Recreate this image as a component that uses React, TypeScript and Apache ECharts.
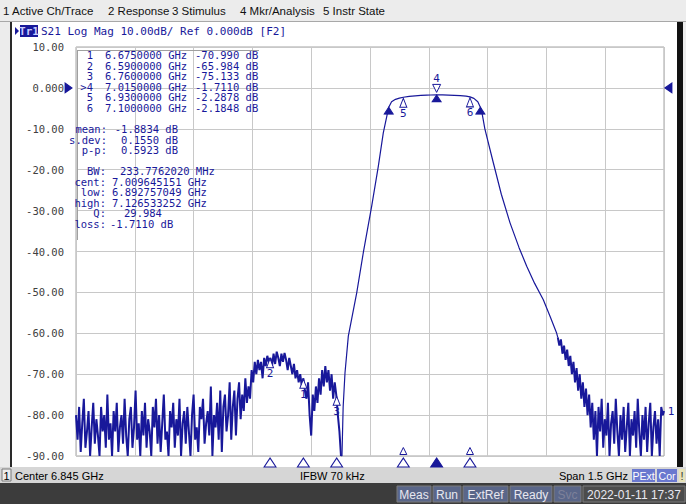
import React, { useEffect, useRef } from "react";
import * as echarts from "echarts";

// ---------- data ----------
const START_GHZ = 6.095;
const STOP_GHZ = 7.595;
const NOISE_STEP_GHZ = 0.004;

const Y_MIN = -90;
const Y_MAX = 10;
const Y_STEP = 10;
const yTickLabels: Record<string, string> = {
  "10": "10.00", "0": "0.000", "-10": "-10.00", "-20": "-20.00", "-30": "-30.00",
  "-40": "-40.00", "-50": "-50.00", "-60": "-60.00", "-70": "-70.00", "-80": "-80.00", "-90": "-90.00",
};

// left noise floor + spurious hump (dB), sampled every 4 MHz from 6.095 GHz
const leftNoiseStartGHz = 6.095;
const leftNoiseDb = [
  -80, -86, -78, -89, -82, -76, -88, -84, -79, -90, -83, -77, -87, -81, -85, -90, -78, -84, -80, -88,
  -75, -86, -82, -90, -79, -84, -77, -89, -83, -80, -87, -76, -85, -90, -81, -78, -88, -83, -74, -86,
  -82, -90, -79, -85, -77, -88, -81, -84, -90, -78, -83, -76, -87, -80, -89, -82, -75, -86, -84, -90,
  -79, -83, -77, -88, -81, -85, -76, -90, -82, -79, -87, -78, -84, -90, -80, -75, -86, -83, -89, -78,
  -81, -76, -87, -82, -79, -85, -73, -90, -80, -83, -77, -86, -74, -89, -78, -75, -84, -80, -72, -86,
  -78, -74, -85, -76, -72, -81, -75, -79, -71, -77, -73, -76,
  -69, -72, -67, -70, -66.5, -69, -67, -71, -66, -68, -65.5, -67,
  -66, -68, -65, -67.5, -64.5, -66, -68, -65, -67, -64.8, -66.5, -69, -66, -68,
  -70, -67.5, -71, -69, -72, -70, -73, -71, -74,
  -76, -72, -80, -85, -75, -79, -73,
  -77, -71, -75, -69, -73, -68, -72,
  -69, -74, -70, -76, -72, -75.1,
  -80, -84, -90,
];

// lower skirt [GHz, dB]
const lowerSkirt: [number, number][] = [
  [6.7735, -90], [6.7765, -78], [6.7812, -69.7], [6.7897, -60.7], [6.8111, -50.1],
  [6.8279, -40.3], [6.8493, -28.9], [6.8662, -19.2], [6.8789, -11], [6.8928, -4.71],
  [6.9, -3.4], [6.91, -2.8], [6.92, -2.5],
];

// pass band [GHz, dB]
const passBand: [number, number][] = [
  [6.93, -2.2878], [6.945, -2.08], [6.96, -1.93], [6.975, -1.84], [6.99, -1.77], [7.0, -1.74],
  [7.015, -1.711], [7.03, -1.72], [7.045, -1.76], [7.06, -1.82], [7.075, -1.9], [7.09, -2.03],
  [7.1, -2.1848],
];

// upper skirt [GHz, dB]
const upperSkirt: [number, number][] = [
  [7.11, -2.55], [7.12, -3.4], [7.1265, -4.71], [7.1299, -5.7], [7.138, -10], [7.1596, -18.3],
  [7.18, -26], [7.2022, -33], [7.225, -39], [7.2448, -43.6], [7.265, -47.8], [7.2871, -51.8],
  [7.305, -56], [7.3213, -60],
];

// right noise (dB), sampled every 4 MHz from 7.324 GHz
const rightNoiseStartGHz = 7.324;
const rightNoiseDb = [
  -61, -63, -61.5, -65, -63, -66.5, -64, -68, -65.5, -70,
  -67, -72, -68.5, -74, -70, -76, -72, -78, -73.5, -80,
  -75, -83, -77, -86, -79, -90, -78, -84, -76, -88,
  -81, -85, -77, -90, -82, -79, -87, -76, -84, -90,
  -80, -86, -78, -89, -83, -77, -90, -81, -85, -79,
  -88, -76, -84, -90, -80, -86, -78, -89, -82, -77,
  -90, -83, -79, -87, -81, -90, -78, -80,
];
const traceEnd: [number, number] = [7.595, -79];

// markers
const markerNames = ["1", "2", "3", "4", "5", "6"];
const markerFreqGHz = [6.675, 6.59, 6.76, 7.015, 6.93, 7.1];
const markerDb = [-70.99, -65.984, -75.133, -1.711, -2.2878, -2.1848];
const activeMarker = "4";
const bwLowGHz = 6.892757049;
const bwHighGHz = 7.126533252;
const bwLevelDb = -4.711;

// marker table texts
const markerTableNames = ["1", "2", "3", ">4", "5", "6"];
const markerTableFreq = ["6.6750000 GHz", "6.5900000 GHz", "6.7600000 GHz", "7.0150000 GHz", "6.9300000 GHz", "7.1000000 GHz"];
const markerTableVal = ["-70.990 dB", "-65.984 dB", "-75.133 dB", "-1.7110 dB", "-2.2878 dB", "-2.1848 dB"];
const statLabels = ["mean:", "s.dev:", "p-p:"];
const statValues = ["-1.8834 dB", "0.1550 dB", "0.5923 dB"];
const bwLabels = ["BW:", "cent:", "low:", "high:", "Q:", "loss:"];
const bwValues = ["233.7762020 MHz", "7.009645151 GHz", "6.892757049 GHz", "7.126533252 GHz", "29.984", "-1.7110 dB"];

const menuItems = ["1 Active Ch/Trace", "2 Response", "3 Stimulus", "4 Mkr/Analysis", "5 Instr State"];
const titleText = "S21 Log Mag 10.00dB/ Ref 0.000dB [F2]";
const statusCenter = "Center 6.845 GHz";
const statusIfbw = "IFBW 70 kHz";
const statusSpan = "Span 1.5 GHz";
const bottomBoxes = ["Meas", "Run", "ExtRef", "Ready", "Svc", "2022-01-11 17:37"];

// ---------- styling ----------
const NAVY = "#18189a";
const MONO = '"DejaVu Sans Mono", monospace';
const SANS = '"Liberation Sans", Arial, sans-serif';

function txt(text: string, x: number, y: number, o: any = {}) {
  return {
    type: "text", x, y, z: 100, silent: true,
    style: {
      text, fill: o.fill || "#000", font: o.font || `11px ${SANS}`,
      align: o.align || "left", verticalAlign: "middle", lineHeight: o.lh || 10,
    },
  };
}
function rect(x: number, y: number, w: number, h: number, fill: string, o: any = {}) {
  return {
    type: "rect", z: o.z ?? -50, silent: true,
    shape: { x, y, width: w, height: h },
    style: { fill, stroke: o.stroke || null, lineWidth: o.lw || 1 },
  };
}

function labelPoint(coord: [number, number], text: string, dy: number, dx = 0) {
  return {
    coord, symbol: "circle", symbolSize: 1,
    itemStyle: { color: "rgba(0,0,0,0)" },
    label: { show: true, formatter: text, position: "inside", offset: [dx, dy], color: NAVY, fontFamily: MONO, fontSize: 11, lineHeight: 10 },
  };
}
function tri(coord: [number, number], size: [number, number], dy: number, filled: boolean, rotate = 0, dx = 0) {
  return {
    coord, symbol: "triangle", symbolSize: size, symbolOffset: [dx, dy], symbolRotate: rotate,
    itemStyle: { color: filled ? NAVY : "#ffffff", borderColor: NAVY, borderWidth: 1 },
    label: { show: false },
  };
}

export default function App() {
  const ref = useRef<HTMLDivElement>(null);
  useEffect(() => {
    if (!ref.current) return;
    const chart = echarts.init(ref.current, undefined, { renderer: "svg" });

    const leftNoise = leftNoiseDb.map((v, i) => [leftNoiseStartGHz + i * NOISE_STEP_GHZ, v] as [number, number]);
    const rightNoise = rightNoiseDb.map((v, i) => [rightNoiseStartGHz + i * NOISE_STEP_GHZ, v] as [number, number]);
    rightNoise.push(traceEnd);
    const mainData: [number, number][] = [
      leftNoise[leftNoise.length - 1],
      ...lowerSkirt,
      ...passBand,
      ...upperSkirt,
      rightNoise[0],
    ];

    const marks: any[] = [];
    markerNames.forEach((name, i) => {
      const c: [number, number] = [markerFreqGHz[i], markerDb[i]];
      if (name === activeMarker) {
        marks.push(tri(c, [8, 8], -6.5, false, 180));
        marks.push(labelPoint(c, name, -16));
        marks.push(tri(c, [9, 7], 3.5, true));
        marks.push(tri([markerFreqGHz[i], Y_MIN], [12, 9], 6.5, true));
      } else {
        marks.push(tri(c, [7, 9], 5.5, false));
        marks.push(labelPoint(c, name, 16));
        marks.push(tri([markerFreqGHz[i], Y_MIN], [12, 9], 6.5, false));
        if (name === "5" || name === "6") marks.push(tri([markerFreqGHz[i], Y_MIN], [7, 7], -5, false));
      }
    });
    marks.push(tri([bwLowGHz, bwLevelDb], [9, 7], 3.5, true));
    marks.push(tri([bwHighGHz, bwLevelDb], [9, 7], 3.5, true));
    marks.push(tri([START_GHZ, 0], [10, 7], 0, true, -90, -7.5));
    marks.push(tri([STOP_GHZ, 0], [10, 7], 0, true, 90, 4.5));
    marks.push(labelPoint(traceEnd, "1", 0, 7));

    const g: any[] = [];
    g.push(rect(0, 0, 686, 21, "#ececec", { z: -60 }));
    g.push(rect(0, 21, 686, 1, "#a8a8a8", { z: -55 }));
    g.push(rect(12, 22, 666, 445, "#ffffff", { z: -55 }));
    g.push(rect(10, 22, 2, 445, "#2a2a2a", { z: -54 }));
    g.push(rect(677, 22, 6, 445, "#111111", { z: -54 }));
    g.push(rect(0, 467, 686, 16, "#d6d6d6", { z: -55 }));
    g.push(rect(0, 483, 686, 21, "#3c3c3c", { z: -55 }));

    const menuX = [3, 108, 172, 240, 323];
    menuItems.forEach((m, i) => g.push(txt(m, menuX[i], 11, { font: `11.5px ${SANS}`, fill: "#111" })));

    g.push({ type: "polygon", z: 100, silent: true, shape: { points: [[15, 27], [19, 31], [15, 35]] }, style: { fill: NAVY } });
    g.push(rect(20, 25, 18, 12, NAVY, { z: 90 }));
    g.push(txt("Tr1", 29, 31, { font: `bold 11px ${MONO}`, fill: "#c8ccff", align: "center" }));
    g.push(txt(titleText, 41, 31, { font: `11px ${MONO}`, fill: NAVY }));

    g.push(rect(77, 50, 1, 190, "#a0a0a0", { z: 5 }));
    g.push(rect(77, 50, 182, 1, "#a0a0a0", { z: 5 }));
    const F = `10.5px ${MONO}`;
    const rowY = [55, 65.6, 76.2, 86.8, 97.4, 108];
    markerTableNames.forEach((n, i) => {
      g.push(txt(n, 93, rowY[i], { font: F, fill: NAVY, align: "right" }));
      g.push(txt(markerTableFreq[i], 105, rowY[i], { font: F, fill: NAVY }));
      g.push(txt(markerTableVal[i], 195, rowY[i], { font: F, fill: NAVY }));
    });
    const statY = [129, 139.5, 150];
    statLabels.forEach((l, i) => {
      g.push(txt(l, 107, statY[i], { font: F, fill: NAVY, align: "right" }));
      g.push(txt(statValues[i], 178, statY[i], { font: F, fill: NAVY, align: "right" }));
    });
    const bwY = [171, 181.5, 192, 202.5, 213, 223.5];
    const bwValX = [120, 112, 112, 112, 124, 110];
    bwLabels.forEach((l, i) => {
      g.push(txt(l, 106, bwY[i], { font: F, fill: NAVY, align: "right" }));
      g.push(txt(bwValues[i], bwValX[i], bwY[i], { font: F, fill: NAVY }));
    });

    g.push(rect(2, 469, 9, 12, "#ececec", { z: -40, stroke: "#7a7a7a" }));
    g.push(txt("1", 6.5, 475.5, { font: `11px ${SANS}`, align: "center" }));
    g.push(txt(statusCenter, 15, 475.5, { font: `11px ${SANS}` }));
    g.push(txt(statusIfbw, 300, 475.5, { font: `11px ${SANS}` }));
    g.push(txt(statusSpan, 628, 475.5, { font: `11px ${SANS}`, align: "right" }));
    g.push(rect(632, 469, 23, 13, "#6a78cf", { z: -40 }));
    g.push(txt("PExt", 643.5, 475.5, { font: `10.5px ${SANS}`, fill: "#ffffff", align: "center" }));
    g.push(rect(657, 469, 20, 13, "#6a78cf", { z: -40 }));
    g.push(txt("Cor", 667, 475.5, { font: `10.5px ${SANS}`, fill: "#ffffff", align: "center" }));
    g.push(rect(679, 469, 6, 13, "#e6e2b8", { z: -40 }));
    g.push(txt("!", 682, 475.5, { font: `11px ${SANS}`, fill: "#333", align: "center" }));

    const boxX = [397, 433, 463, 510, 554, 583];
    const boxW = [34, 28, 45, 42, 27, 102];
    bottomBoxes.forEach((b, i) => {
      const isDate = i === 5;
      const isSvc = i === 4;
      g.push(rect(boxX[i], 486, boxW[i], 16, isDate ? "#4c4c4c" : "#5a6689", { z: -40, stroke: "#7c7c7c" }));
      g.push(txt(b, boxX[i] + boxW[i] / 2, 494.5, {
        font: `12px ${SANS}`, fill: isSvc ? "#7d8199" : "#e8e8f0", align: "center",
      }));
    });

    const noiseStyle = { color: NAVY, width: 2 };
    chart.setOption({
      animation: false,
      backgroundColor: "#ececec",
      grid: { left: 76, right: 22, top: 47, bottom: 48, show: true, borderColor: "#a4a4a4", borderWidth: 1, backgroundColor: "rgba(0,0,0,0)" },
      xAxis: [
        { type: "value", min: START_GHZ, max: STOP_GHZ, show: false },
        {
          type: "value", min: 0, max: 10, interval: 1, position: "bottom",
          axisLine: { show: false }, axisTick: { show: false }, axisLabel: { show: false },
          splitLine: { show: true, lineStyle: { color: "#c8c8c8", width: 1 } },
        },
      ],
      yAxis: {
        type: "value", min: Y_MIN, max: Y_MAX, interval: Y_STEP,
        axisLine: { show: false }, axisTick: { show: false },
        axisLabel: {
          margin: 12, color: "#404040", fontFamily: MONO, fontSize: 10.5,
          formatter: (v: number) => yTickLabels[String(v)] ?? String(v),
        },
        splitLine: { show: true, lineStyle: { color: "#c8c8c8", width: 1 } },
      },
      graphic: g,
      series: [
        { type: "line", xAxisIndex: 0, data: leftNoise, showSymbol: false, symbol: "none", lineStyle: noiseStyle, z: 3 },
        {
          type: "line", xAxisIndex: 0, data: mainData, showSymbol: false, symbol: "none",
          lineStyle: { color: NAVY, width: 1.2 }, z: 3,
          markPoint: { silent: true, animation: false, data: marks },
        },
        { type: "line", xAxisIndex: 0, data: rightNoise, showSymbol: false, symbol: "none", lineStyle: noiseStyle, z: 3 },
      ],
    });
    return () => chart.dispose();
  }, []);
  return <div ref={ref} style={{ position: "fixed", left: 0, top: 0, width: 686, height: 504 }} />;
}
